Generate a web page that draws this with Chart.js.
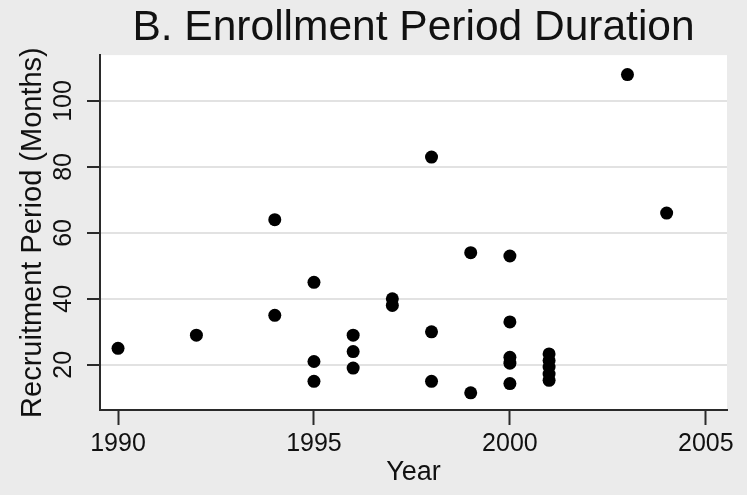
<!DOCTYPE html>
<html lang="en">
  <head>
    <meta charset="UTF-8" />
    <title>B. Enrollment Period Duration</title>
    <script src="https://cdn.jsdelivr.net/npm/chart.js"></script>
    <style>
      html, body { margin: 0; padding: 0; background: #ebebeb; }
      #wrap { width: 747px; height: 495px; }
    </style>
  </head>
  <body>
    <div id="wrap"><canvas id="scatter"></canvas></div>
    <script>
      // enrollment year and recruitment period (months) per trial
      const years = [
        1990, 1992, 1994, 1994, 1995, 1995, 1995, 1996, 1996, 1996,
        1997, 1997, 1998, 1998, 1998, 1999, 1999, 2000, 2000, 2000,
        2000, 2000, 2001, 2001, 2001, 2001, 2001, 2003, 2004
      ];
      const months = [
        25, 29, 64, 35, 45, 21, 15, 29, 24, 19,
        40, 38, 83, 30, 15, 54, 11.5, 53, 33, 22.3,
        20.5, 14.3, 23.3, 21.3, 19.3, 17.2, 15.3, 108, 66
      ];
      const xTicks = [1990, 1995, 2000, 2005];
      const yTicks = [20, 40, 60, 80, 100];

      const points = years.map((y, i) => ({ x: y, y: months[i] }));

      const plotBg = {
        id: "plotBg",
        beforeDraw(chart) {
          const { ctx, chartArea: a } = chart;
          ctx.save();
          ctx.fillStyle = "#ffffff";
          ctx.fillRect(a.left, a.top, a.right - a.left, a.bottom - a.top);
          ctx.restore();
        },
      };

      const font = "'Liberation Sans', Arial, sans-serif";

      new Chart(document.getElementById("scatter"), {
        type: "scatter",
        data: {
          datasets: [
            {
              data: points,
              backgroundColor: "#000000",
              borderColor: "#000000",
              borderWidth: 0,
              pointRadius: 6.5,
            },
          ],
        },
        options: {
          responsive: true,
          maintainAspectRatio: false,
          animation: false,
          layout: { padding: { left: 0, right: 20, top: 0, bottom: 0 } },
          plugins: {
            legend: { display: false },
            tooltip: { enabled: false },
            title: {
              display: true,
              fullSize: false,
              text: "B. Enrollment Period Duration",
              color: "#111111",
              font: { family: font, size: 42.5, weight: "normal", lineHeight: 1.25 },
              padding: { top: 2, bottom: 0 },
            },
          },
          scales: {
            x: {
              type: "linear",
              min: 1989.54,
              max: 2005.54,
              afterBuildTicks: (s) => { s.ticks = xTicks.map((v) => ({ value: v })); },
              afterFit: (s) => { s.height = 85; },
              grid: {
                drawOnChartArea: false,
                drawTicks: true,
                tickLength: 15,
                tickColor: "#2a2a2a",
                tickWidth: 2,
              },
              border: { color: "#2a2a2a", width: 2 },
              ticks: {
                color: "#111111",
                font: { family: font, size: 25 },
                maxRotation: 0,
                padding: 4,
                callback: (v) => String(v),
              },
              title: {
                display: true,
                text: "Year",
                color: "#111111",
                font: { family: font, size: 27 },
                padding: { top: 0, bottom: 6 },
              },
            },
            y: {
              type: "linear",
              min: 6.3,
              max: 113.9,
              afterBuildTicks: (s) => { s.ticks = yTicks.map((v) => ({ value: v })); },
              afterFit: (s) => { s.width = 100; },
              grid: {
                color: "#e2e2e2",
                lineWidth: 2,
                drawTicks: true,
                tickLength: 13,
                tickColor: "#2a2a2a",
                tickWidth: 2,
              },
              border: { color: "#2a2a2a", width: 2 },
              ticks: {
                color: "#111111",
                font: { family: font, size: 25 },
                minRotation: 90,
                maxRotation: 90,
                crossAlign: "center",
                padding: 2,
                callback: (v) => String(v),
              },
              title: {
                display: true,
                text: "Recruitment Period (Months)",
                color: "#111111",
                font: { family: font, size: 29 },
                padding: { top: 16, bottom: 0 },
              },
            },
          },
        },
        plugins: [plotBg],
      });
    </script>
  </body>
</html>
